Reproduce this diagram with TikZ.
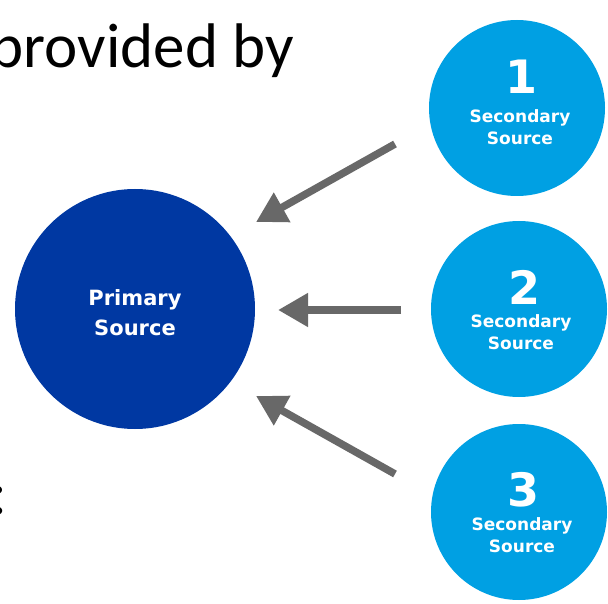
\documentclass[tikz,border=0pt]{standalone}
\usepackage{fontspec}
\setmainfont{Carlito}
\newfontfamily\vfont{DejaVu Sans}
\usetikzlibrary{arrows.meta}
\definecolor{darkblue}{RGB}{0,56,162}
\definecolor{lightblue}{RGB}{0,160,227}
\definecolor{arrowgray}{RGB}{104,104,104}
\tikzset{
  primary/.style={circle,fill=darkblue,draw=none,minimum size=240pt,inner sep=0pt},
  secondary/.style={circle,fill=lightblue,draw=none,minimum size=176pt,inner sep=0pt},
  numtxt/.style={text=white,font=\vfont\bfseries\fontsize{46}{46}\selectfont,inner sep=0pt},
  lbl/.style={text=white,font=\vfont\bfseries\fontsize{17}{17}\selectfont,inner sep=0pt,align=center},
  plbl/.style={text=white,font=\vfont\bfseries\fontsize{21}{21}\selectfont,inner sep=0pt,align=center},
  conn/.style={draw=arrowgray,line width=7.5pt,-{Triangle[length=30pt,width=32pt]},shorten >=0pt},
  bigtxt/.style={font=\fontsize{63}{63}\selectfont,inner sep=0pt}
}
\begin{document}
\begin{tikzpicture}[x=1pt,y=-1pt]
\useasboundingbox (0,0) rectangle (608,604);
\clip (0,0) rectangle (608,604);
\node[bigtxt,anchor=base east] (title) at (294,68) {provided by};
\node[bigtxt,anchor=base] (colon) at (-1,514) {:};
\node[primary] (p) at (135,309) {};
\node[plbl] (pt) at (135,313) {Primary\\[9pt]Source};
\node[secondary] (s1) at (517,108) {};
\node[secondary] (s2) at (519,309) {};
\node[secondary] (s3) at (519,512) {};
\node[numtxt] at (521,77) {1};
\node[lbl] at (520,127) {Secondary\\[5pt]Source};
\node[numtxt] at (524,287) {2};
\node[lbl] at (521,332) {Secondary\\[5pt]Source};
\node[numtxt] at (523,490) {3};
\node[lbl] at (522,535) {Secondary\\[5pt]Source};
\coordinate (a1s) at (395,144);
\coordinate (a1e) at (256,222);
\coordinate (a2s) at (401,310);
\coordinate (a2e) at (278,310);
\coordinate (a3s) at (395,474);
\coordinate (a3e) at (256,396);
\draw[conn] (a1s) -- (a1e);
\draw[conn] (a2s) -- (a2e);
\draw[conn] (a3s) -- (a3e);
\end{tikzpicture}
\end{document}
